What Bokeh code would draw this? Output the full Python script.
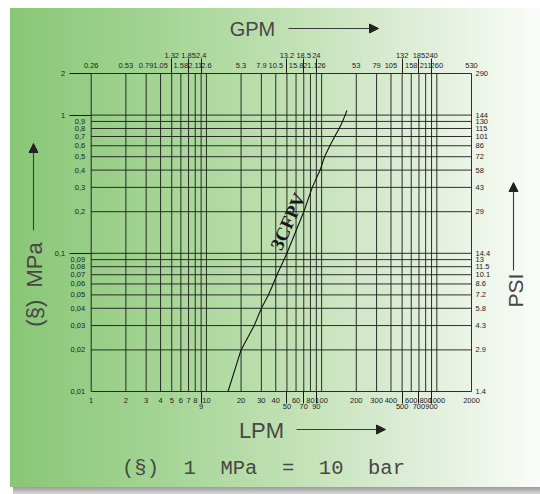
import math
from bokeh.plotting import figure
from bokeh.models import (LogAxis, FixedTicker, CustomJSTickFormatter, Range1d,
                          Label, Arrow, NormalHead)
from bokeh.embed import file_html
from bokeh.resources import INLINE
from bokeh.core.properties import value

# ---------------- data ----------------
lpm_grid = [1, 2, 3, 4, 5, 6, 7, 8, 9, 10, 20, 30, 40, 50, 60, 70, 80, 90, 100,
            200, 300, 400, 500, 600, 700, 800, 900, 1000, 2000]
lpm_row1 = [1, 2, 3, 4, 5, 6, 7, 8, 10, 20, 30, 40, 60, 80, 100, 200, 300, 400,
            600, 800, 1000, 2000]
lpm_row1_labels = [str(v) for v in lpm_row1]
lpm_row2 = [9, 50, 70, 90, 500, 700, 900]
lpm_row2_labels = [str(v) for v in lpm_row2]

gpm_row1 = [1, 2, 3, 4, 6, 8, 10, 20, 30, 40, 60, 80, 100, 200, 300, 400, 600, 800, 1000, 2000]
gpm_row1_labels = ["0.26", "0.53", "0.79", "1.05", "1.58", "2.11", "2.6", "5.3", "7.9", "10.5",
                   "15.8", "21.1", "26", "53", "79", "105", "158", "211", "260", "530"]
gpm_row2 = [5, 7, 9, 50, 70, 90, 500, 700, 900]
gpm_row2_labels = ["1.32", "1.85", "2.4", "13.2", "18.5", "24", "132", "185", "240"]

mpa_grid = [0.01, 0.02, 0.03, 0.04, 0.05, 0.06, 0.07, 0.08, 0.09, 0.1,
            0.2, 0.3, 0.4, 0.5, 0.6, 0.7, 0.8, 0.9, 1, 2]
mpa_near = [0.01, 0.02, 0.03, 0.04, 0.05, 0.06, 0.07, 0.08, 0.09,
            0.2, 0.3, 0.4, 0.5, 0.6, 0.7, 0.8, 0.9]
mpa_near_labels = ["0,01", "0,02", "0,03", "0,04", "0,05", "0,06", "0,07", "0,08", "0,09",
                   "0,2", "0,3", "0,4", "0,5", "0,6", "0,7", "0,8", "0,9"]
mpa_far = [0.1, 1, 2]
mpa_far_labels = ["0,1", "1", "2"]

psi_vals = [0.01, 0.02, 0.03, 0.04, 0.05, 0.06, 0.07, 0.08, 0.09, 0.1,
            0.2, 0.3, 0.4, 0.5, 0.6, 0.7, 0.8, 0.9, 1, 2]
psi_labels = ["1.4", "2.9", "4.3", "5.8", "7.2", "8.6", "10.1", "11.5", "13", "14.4",
              "29", "43", "58", "72", "86", "101", "115", "130", "144", "290"]

# 3CFPV curve (flow LPM, pressure drop MPa)
curve_lpm = [15.4, 20, 26, 30, 34.5, 38, 41, 50, 70, 83, 97, 106, 118, 130, 142, 152, 160, 166]
curve_mpa = [0.01, 0.02, 0.03, 0.04, 0.05, 0.06, 0.07, 0.1, 0.2, 0.3, 0.4, 0.5, 0.6, 0.7,
             0.8, 0.9, 1.0, 1.08]
curve_name = ["3CFPV"]
curve_label_x = [51]
curve_label_y = [0.17]

# chart extents (data) and where they sit on the canvas (pixels)
X_MIN, X_MAX = 1, 2000
Y_MIN, Y_MAX = 0.01, 2
W, H = 540, 494
PX_LEFT, PX_RIGHT = 90.7, 471.0
PY_TOP, PY_BOTTOM = 73.0, 391.0

FONT = "Liberation Sans"
TICK_SIZE = "7.5px"
TICK_COLOR = "#222222"
LINE_COLOR = "#1a1a1a"
NB = "\u00a0"

# ranges such that the chart box lands at the pixel positions above (frame = whole canvas)
xdec = (PX_RIGHT - PX_LEFT) / (math.log10(X_MAX) - math.log10(X_MIN))
ydec = (PY_BOTTOM - PY_TOP) / (math.log10(Y_MAX) - math.log10(Y_MIN))
x_start = 10 ** (math.log10(X_MIN) - PX_LEFT / xdec)
x_end = 10 ** (math.log10(X_MAX) + (W - PX_RIGHT) / xdec)
y_end = 10 ** (math.log10(Y_MAX) + PY_TOP / ydec)
y_start = 10 ** (math.log10(Y_MIN) - (H - PY_BOTTOM) / ydec)


def fmt(vals, labels):
    return CustomJSTickFormatter(args=dict(vals=vals, labs=labels), code="""
        for (let i = 0; i < vals.length; i++) {
            if (Math.abs(vals[i] - tick) <= 1e-6 * vals[i]) { return labs[i]; }
        }
        return "";
    """)


def style_axis(ax, vals, labels, loc, standoff, tick_out=0):
    ax.fixed_location = loc
    ax.ticker = FixedTicker(ticks=vals, minor_ticks=[])
    ax.formatter = fmt(vals, labels)
    ax.axis_line_color = None
    ax.minor_tick_line_color = None
    ax.minor_tick_out = 0
    ax.minor_tick_in = 0
    ax.major_tick_in = 0
    ax.major_tick_out = tick_out
    if tick_out:
        ax.major_tick_line_color = LINE_COLOR
        ax.major_tick_line_width = 1
    else:
        ax.major_tick_line_color = None
    ax.major_label_standoff = standoff
    ax.major_label_text_font = FONT
    ax.major_label_text_font_size = TICK_SIZE
    ax.major_label_text_color = TICK_COLOR


p = figure(width=W, height=H, x_axis_type="log", y_axis_type="log",
           x_range=Range1d(x_start, x_end), y_range=Range1d(y_start, y_end),
           output_backend="svg", toolbar_location=None)
p.min_border = 0
p.min_border_left = 0
p.min_border_right = 0
p.min_border_top = 0
p.min_border_bottom = 0
p.background_fill_color = None
p.border_fill_color = None
p.outline_line_color = None
p.grid.visible = False
p.styles = {
    "background": ("linear-gradient(to right, #88c776 0%, #a6d596 30%, #c3e2b7 55%, "
                   "#e0eeda 78%, #fafcf9 100%) 10px 8px / 530px 479px no-repeat, "
                   "linear-gradient(to bottom, #9c9c9c, #d8d8d8) 13px 487px / 527px 7px no-repeat, "
                   "#ffffff"),
}

# grid lines of the chart box
p.segment(x0=lpm_grid, y0=[Y_MIN] * len(lpm_grid), x1=lpm_grid, y1=[Y_MAX] * len(lpm_grid),
          line_color=LINE_COLOR, line_width=1, line_alpha=0.9)
p.segment(x0=[X_MIN] * len(mpa_grid), y0=mpa_grid, x1=[X_MAX] * len(mpa_grid), y1=mpa_grid,
          line_color=LINE_COLOR, line_width=1, line_alpha=0.9)

# bottom axes (LPM)
style_axis(p.xaxis[0], lpm_row1, lpm_row1_labels, Y_MIN, standoff=6)
bot2 = LogAxis()
style_axis(bot2, lpm_row2, lpm_row2_labels, Y_MIN, standoff=0, tick_out=12)
p.add_layout(bot2, "below")

# top axes (GPM)
top1 = LogAxis()
style_axis(top1, gpm_row1, gpm_row1_labels, Y_MAX, standoff=6)
p.add_layout(top1, "above")
top2 = LogAxis()
style_axis(top2, gpm_row2, gpm_row2_labels, Y_MAX, standoff=1, tick_out=15)
p.add_layout(top2, "above")

# left axes (MPa)
style_axis(p.yaxis[0], mpa_near, mpa_near_labels, X_MIN, standoff=6)
left2 = LogAxis()
style_axis(left2, mpa_far, mpa_far_labels, X_MIN, standoff=4, tick_out=22)
p.add_layout(left2, "left")

# right axis (PSI)
right1 = LogAxis()
style_axis(right1, psi_vals, psi_labels, X_MAX, standoff=4)
p.add_layout(right1, "right")

# curve
p.line(curve_lpm, curve_mpa, line_color="#111111", line_width=1.1)
p.text(x=curve_label_x, y=curve_label_y, text=curve_name, angle=1.15,
       text_font=value("Liberation Serif"), text_font_size="19px", text_font_style="bold",
       text_align="center", text_baseline="middle", text_color="#1a1a1a")

# titles and arrows (screen units: px from the left / bottom of the canvas)
TITLE_COLOR = "#474747"


def head():
    return NormalHead(size=9, fill_color="#222222", line_color="#222222")


def title(x, y, text, size="20px", angle=0.0, font=FONT):
    p.add_layout(Label(x=x, y=y, x_units="screen", y_units="screen", text=text, angle=angle,
                       text_font=font, text_font_size=size, text_color=TITLE_COLOR,
                       text_align="center", text_baseline="middle"))


def arrow(x0, y0, x1, y1):
    p.add_layout(Arrow(x_start=x0, y_start=y0, x_end=x1, y_end=y1,
                       start_units="screen", end_units="screen",
                       line_color="#3a3a3a", line_width=1.1, end=head()))


title(252, 466, "GPM")
arrow(288, 466, 378, 466)
title(261, 64, "LPM", size="22px")
arrow(296, 65, 385, 65)
title(34, 210, "(§)" + NB + NB + "MPa", size="22px", angle=math.pi / 2)
arrow(33, 264, 33, 351)
title(515, 204, "PSI", size="21px", angle=math.pi / 2)
arrow(513, 224, 513, 312)
title(263, 26, "(§)" + NB + " 1" + NB + " MPa" + NB + " =" + NB + " 10" + NB + " bar",
      size="20.5px", font="Liberation Mono")

open("out.html", "w").write(file_html(p, INLINE))
